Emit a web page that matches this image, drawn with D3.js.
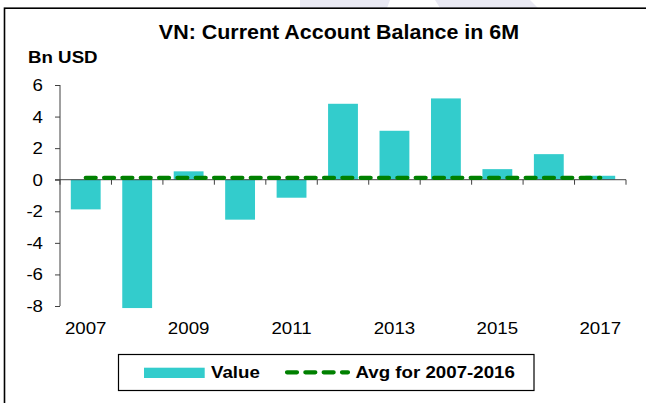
<html>
<head>
<script src="https://d3js.org/d3.v7.min.js"></script>
<style>
  body { margin: 0; background: #fff; }
  text { font-family: "Liberation Sans", Arial, sans-serif; fill: #000; }
</style>
</head>
<body>
<div id="chart"></div>
<script>
// data
var years = ["2007","2008","2009","2010","2011","2012","2013","2014","2015","2016","2017"];
var values = [-1.88, -8.13, 0.53, -2.53, -1.14, 4.81, 3.10, 5.15, 0.67, 1.62, 0.25];
var avgValue = [0.12];
var yTicks = [-8, -6, -4, -2, 0, 2, 4, 6];
var xLabels = ["2007","2009","2011","2013","2015","2017"];

var W = 646, H = 403;
var stretchX = 1.1; // the picture's text is a bit wide

var svg = d3.select("#chart").append("svg")
  .attr("width", W).attr("height", H);

// faint watermark shapes at the top
svg.append("polygon").attr("points", "300,0 390,0 387,8 300,8").attr("fill", "#e9e9f3");
svg.append("polygon").attr("points", "435,0 530,0 538,8 440,8").attr("fill", "#e9e9f3");

// outer frame
svg.append("rect")
  .attr("x", 4.5).attr("y", 8.2)
  .attr("width", 700).attr("height", 500)
  .attr("fill", "none").attr("stroke", "#000").attr("stroke-width", 1.6);

function stretch(sel) {
  sel.each(function () {
    var w = this.getComputedTextLength();
    d3.select(this).attr("textLength", w * stretchX).attr("lengthAdjust", "spacingAndGlyphs");
  });
}

var x = d3.scaleBand().domain(years).range([60, 626]).paddingInner(0.42).paddingOuter(0.21);
var xb = d3.scaleBand().domain(years).range([60, 626]);
var y = d3.scaleLinear().domain([-8, 6]).range([306, 85]);

// title and unit
svg.append("text").attr("x", 339).attr("y", 38.5)
  .attr("text-anchor", "middle").attr("font-size", 19.5).attr("font-weight", "bold")
  .text("VN: Current Account Balance in 6M").call(stretch);
svg.append("text").attr("x", 28).attr("y", 62.5)
  .attr("font-size", 17).attr("font-weight", "bold")
  .text("Bn USD").call(stretch);

// bars
svg.selectAll("rect.bar").data(values).enter().append("rect")
  .attr("class", "bar")
  .attr("x", function (d, i) { return x(years[i]); })
  .attr("width", x.bandwidth())
  .attr("y", function (d) { return y(Math.max(0, d)); })
  .attr("height", function (d) { return Math.abs(y(d) - y(0)); })
  .attr("fill", "#33cccc");

// y axis
var yAxis = svg.append("g").attr("transform", "translate(60,0)")
  .call(d3.axisLeft(y).tickValues(yTicks).tickSize(5).tickFormat(d3.format("d")));
yAxis.select(".domain").attr("stroke", "#404040").attr("d", "M0," + y(-8) + "V" + y(6));
yAxis.selectAll(".tick line").attr("stroke", "#404040");
yAxis.selectAll(".tick text")
  .attr("x", -17).attr("font-size", 17).attr("fill", "#000")
  .style("font-family", '"Liberation Sans", Arial, sans-serif')
  .text(function (d) { return d < 0 ? "-" + Math.abs(d) : d; })
  .call(stretch);

// x axis along zero, ticks at band edges
var xAxis = svg.append("g").attr("transform", "translate(0," + y(0) + ")");
xAxis.append("line").attr("x1", 55).attr("x2", 626).attr("stroke", "#404040");
xAxis.selectAll("line.tk").data(years.concat(["end"])).enter().append("line")
  .attr("class", "tk")
  .attr("x1", function (d) { return d === "end" ? 626 : xb(d); })
  .attr("x2", function (d) { return d === "end" ? 626 : xb(d); })
  .attr("y1", 0).attr("y2", 5).attr("stroke", "#404040");

// year labels
svg.selectAll("text.xl").data(xLabels).enter().append("text")
  .attr("class", "xl")
  .attr("x", function (d) { return xb(d) + xb.bandwidth() / 2; })
  .attr("y", 333.5).attr("text-anchor", "middle").attr("font-size", 17)
  .text(function (d) { return d; }).call(stretch);

// average line
var avgLine = d3.line()
  .x(function (d) { return xb(d) + xb.bandwidth() / 2; })
  .y(function () { return y(avgValue[0]); });
svg.append("path").datum([years[0], years[years.length - 1]])
  .attr("d", avgLine)
  .attr("fill", "none").attr("stroke", "#008000").attr("stroke-width", 4.2)
  .attr("stroke-linecap", "round").attr("stroke-dasharray", "10,8.33");

// legend
var lg = svg.append("g");
lg.append("rect").attr("x", 118.5).attr("y", 354.5).attr("width", 415.5).attr("height", 36)
  .attr("fill", "#fff").attr("stroke", "#000").attr("stroke-width", 1.2);
lg.append("rect").attr("x", 144).attr("y", 367.7).attr("width", 60.7).attr("height", 10.3)
  .attr("fill", "#33cccc");
lg.append("text").attr("x", 211).attr("y", 378).attr("font-size", 17).attr("font-weight", "bold")
  .text("Value").call(stretch);
lg.append("line").attr("x1", 287).attr("x2", 348).attr("y1", 372.3).attr("y2", 372.3)
  .attr("stroke", "#008000").attr("stroke-width", 4.2)
  .attr("stroke-linecap", "round").attr("stroke-dasharray", "10,8.33");
lg.append("text").attr("x", 355.5).attr("y", 378).attr("font-size", 17).attr("font-weight", "bold")
  .text("Avg for 2007-2016").call(stretch);
</script>
</body>
</html>
